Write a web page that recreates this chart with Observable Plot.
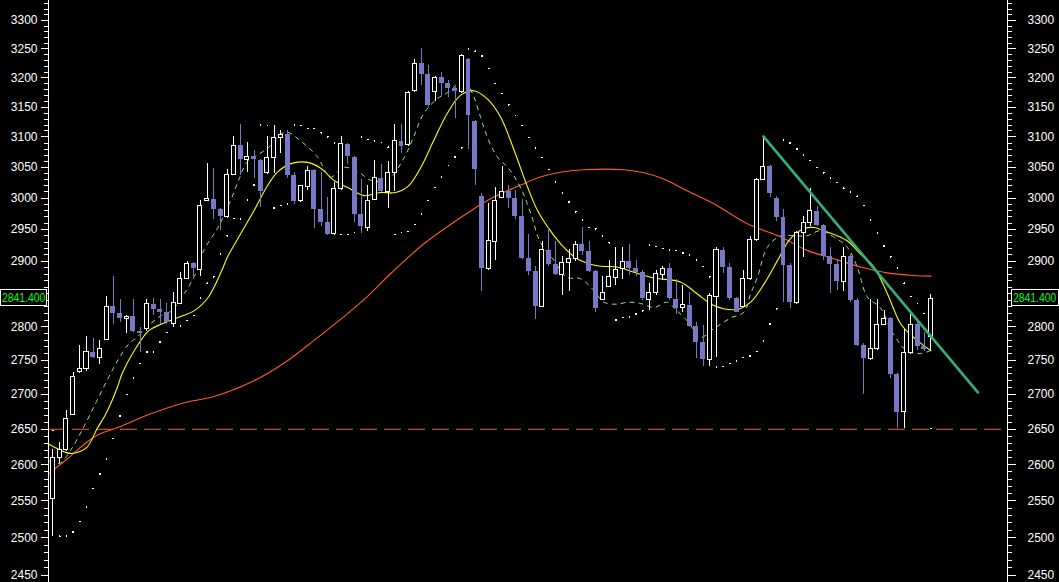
<!DOCTYPE html>
<html><head><meta charset="utf-8">
<script src="https://cdn.jsdelivr.net/npm/d3@7"></script>
<script src="https://cdn.jsdelivr.net/npm/@observablehq/plot@0.6"></script>
<style>
html,body{margin:0;padding:0;background:#000;}
#chart{width:1059px;height:582px;overflow:hidden;background:#000;}
svg{display:block;}
</style></head><body><div id="chart"></div>
<script>
// ---- candles (index order, oldest first) ----
const opens = [2552,2610,2621,2671,2732,2737,2761,2754,2780,2830,2820,2812,2816,2792,2797,2834,2826,2821,2804,2835,
2873,2896,2887,2996,2998,2982,2969,3037,3086,3062,3067,3061,3040,3066,3099,3104,3037,2995,3018,3045,
2982,2961,2942,3015,3088,3066,2974,2952,2997,3032,3010,3041,3093,3087,3177,3224,3205,3176,3200,3190,
3181,3175,3231,3126,3002,2888,2930,3000,3010,3000,2970,2904,2884,2830,2917,2895,2879,2898,2903,2926,
2916,2884,2840,2860,2874,2888,2899,2888,2883,2841,2851,2878,2889,2841,2828,2832,2800,2777,2751,2845,
2917,2890,2842,2830,2872,2934,3030,3051,3000,2969,2894,2836,2945,2960,2979,2957,2908,2895,2868,2907,
2840,2772,2752,2767,2803,2812,2729,2674,2760,2803,2770,2785];
const highs = [2622,2631,2677,2732,2772,2786,2782,2780,2846,2876,2841,2817,2841,2799,2841,2843,2841,2835,2852,2883,
2900,2898,2996,3057,3048,2984,3046,3100,3121,3091,3077,3063,3101,3120,3111,3110,3042,3020,3052,3047,
3041,3001,3025,3101,3090,3068,3030,3020,3061,3054,3060,3121,3121,3177,3231,3251,3221,3202,3209,3195,
3183,3240,3233,3128,3008,2991,3017,3052,3020,3012,2998,2942,2892,2931,2953,2931,2907,2918,2931,2953,
2931,2886,2876,2901,2921,2921,2926,2901,2885,2865,2886,2892,2897,2872,2862,2852,2806,2802,2851,2922,
2922,2896,2844,2886,2939,3032,3098,3053,3002,2981,2896,2947,2970,3015,2987,2958,2922,2902,2922,2910,
2842,2775,2841,2841,2824,2814,2731,2796,2818,2806,2791,2849];
const lows = [2502,2602,2619,2670,2731,2733,2752,2743,2779,2804,2807,2790,2791,2762,2792,2817,2804,2803,2801,2834,
2872,2876,2876,2995,2966,2948,2967,3036,3036,3042,3032,2985,3038,3040,3073,3032,2990,2993,3012,2952,
2954,2941,2940,3013,3055,2961,2943,2946,2996,3009,2983,3011,3073,3085,3175,3187,3150,3159,3170,3167,
3131,3173,3080,3020,2854,2886,2901,2999,2983,2966,2902,2878,2811,2829,2892,2878,2847,2854,2900,2909,
2882,2822,2839,2859,2862,2872,2878,2877,2840,2824,2847,2870,2840,2818,2822,2798,2752,2741,2741,2754,
2881,2840,2821,2829,2871,2931,3029,3001,2963,2836,2828,2834,2906,2955,2955,2901,2851,2855,2853,2837,
2770,2700,2750,2765,2801,2723,2651,2651,2758,2764,2763,2763];
const closes = [2610,2620,2664,2725,2737,2762,2754,2767,2830,2820,2813,2815,2792,2790,2834,2826,2822,2806,2836,2873,
2896,2888,2987,2998,2982,2970,3038,3085,3063,3067,3063,3011,3066,3099,3104,3037,2995,3019,3044,2982,
2961,2942,3015,3088,3067,2974,2954,2995,3032,3011,3041,3093,3085,3174,3224,3205,3152,3200,3190,3182,
3177,3237,3136,3046,2889,2931,2996,3010,3000,2971,2904,2884,2830,2917,2895,2880,2898,2904,2926,2915,
2884,2827,2851,2875,2887,2899,2889,2883,2842,2851,2880,2888,2842,2828,2832,2800,2777,2751,2846,2917,
2890,2842,2822,2873,2934,3030,3051,3008,2969,2894,2837,2945,2960,2979,2957,2908,2895,2869,2907,2840,
2772,2753,2767,2803,2812,2729,2674,2760,2803,2770,2766,2841.4];

// ---- parabolic SAR dots, one per candle ----
const sar = [2648,2502,2502,2508,2522,2542,2567,2587,2608,2637,
2669,2700,2724,2745,2762,2762,2777,2791,2801,2801,
2809,2817,2843,2866,2876,2911,2940,2967,2966,2997,
3021,3120,3119,2984,2988,2991,3120,3119,3114,3114,
3107,3100,3090,2942,2942,2945,3100,3096,3093,3091,
3083,2942,2945,2947,2958,2974,2996,3017,3034,3053,
3067,3082,3250,3246,3238,3216,3190,3173,3154,3136,
3119,3099,3082,3066,3046,3026,3008,2994,2978,2965,
2953,2951,2940,2929,2810,2814,2815,2819,2824,2926,
2923,2920,2918,2917,2913,2910,2902,2892,2876,2740,
2741,2745,2749,2754,2756,2763,2779,2804,2827,3095,
3090,3080,3070,3061,3050,3041,3033,3025,3016,3010,
3003,2988,2965,2944,2924,2907,2890,2866,2846,2835,
2820,2651];

// ---- moving averages (candle index, value) ----
const yellowIdx = [-0.7,2,3,5,6.6,8,9.6,10.3,12.3,14.3,16.2,18.2,21.2,23.2,25.2,26,28,30,32,33.5,
35.5,38,40,42,44,46.4,48.9,51.1,52.9,54.8,56.8,58.8,60.8,62.8,64.8,66.8,68.8,70.8,72.3,74.2,
76.2,78.2,81.2,84.2,86.7,89.7,93.6,96.1,98.6,102.1,104.1,106.1,108.1,110,112,113.5,115.5,118.5,120.5,122.5,
124.5,126.5,128.4,131];
const yellowVal = [2629,2617,2616,2624,2651,2674,2710,2730,2767,2794,2804,2812,2825,2845,2886,2906,2943,2980,3020,3042,
3056,3058,3048,3028,3017,3004,3009,3009,3018,3048,3094,3139,3170,3178,3164,3133,3078,3018,2980,2948,
2922,2904,2893,2891,2883,2874,2868,2850,2832,2826,2837,2865,2901,2935,2951,2953,2946,2932,2911,2891,
2850,2804,2784,2764];

const redIdx = [-0.7,2.1,5.1,7.1,9.3,14.3,19.2,24,30,34.5,38.9,46.4,50.4,55.3,60.3,65.3,69.8,72.7,75.7,79.2,
85.2,88.2,91.1,94.6,98.6,103.6,108.6,112.5,116.5,120.5,124.5,128.4,131];
const redVal = [2587,2608,2632,2644,2651,2671,2687,2697,2720,2746,2779,2841,2881,2927,2965,2999,3021,3034,3042,3046,
3046,3041,3031,3012,2991,2959,2938,2917,2904,2891,2882,2878,2877];

const greenIdx = [-0.5,1,2.6,4.3,6.3,8.3,9.8,11.3,12.5,14.3,16.2,17.7,19.2,20.2,21.5,22.5,24.5,26.5,27.7,29,
30.5,32.2,34,35,36.9,39.4,41.4,43.4,45.6,47.4,49.9,52.3,53.8,55.3,57.3,59.3,61.3,62.6,63.8,64.8,
66.3,68,69.8,71.3,72.7,74.7,76.7,78.7,80.7,82.2,84.2,85.7,87.7,89.7,91.6,93.1,94.8,96.6,98.6,101.1,
103.1,104.1,105.1,106.6,108.6,110.5,112.5,114.5,116.5,118.5,120,121.5,123.4,125.4,127.4,129.4,130.9];
const greenVal = [2605,2602,2620,2648,2686,2725,2752,2774,2784,2802,2817,2824,2845,2860,2886,2917,2951,2996,3029,3059,
3070,3083,3105,3108,3094,3068,3034,3050,3042,3029,3029,3064,3100,3139,3164,3178,3198,3173,3133,3100,
3067,3048,3016,2975,2930,2902,2875,2873,2855,2837,2834,2837,2835,2829,2837,2824,2807,2784,2797,2813,
2822,2850,2875,2922,2940,2940,2940,2948,2938,2922,2891,2845,2829,2789,2764,2760,2764];

// ---- trend line and support ----
const trendIdx = [106, 138];
const trendVal = [3101, 2703];
const supportLevel = 2650;

// ---- axis ticks (2850 is hidden behind the last-price box) ----
const tickLabels = [2450,2500,2550,2600,2650,2700,2750,2800,2900,2950,3000,3050,3100,3150,3200,3250,3300];
const minorTicks = d3.range(2450, 3331, 10);
const lastClose = closes[closes.length - 1];

// ---- build tables ----
const candles = opens.map((o, i) => ({i, open: o, high: highs[i], low: lows[i], close: closes[i], up: closes[i] >= o}));
const upC = candles.filter(d => d.up), downC = candles.filter(d => !d.up);
const sarData = sar.map((v, i) => ({i, v}));
const mk = (ix, vs) => ix.map((i, k) => ({i, v: vs[k]}));
const yellow = mk(yellowIdx, yellowVal), red = mk(redIdx, redVal), green = mk(greenIdx, greenVal), trend = mk(trendIdx, trendVal);

const BLUE = "#7878c4";
const xDomain = [-0.67, 142.42];

const chart = Plot.plot({
  width: 1059, height: 582,
  marginLeft: 48, marginRight: 52, marginTop: 0, marginBottom: 0,
  style: {background: "#000", color: "#fff", fontFamily: "'Liberation Sans', Arial, sans-serif", fontSize: "12px"},
  x: {type: "linear", domain: xDomain, axis: null},
  y: {type: "log", domain: [2440.8, 3335.6], label: null},
  marks: [
    Plot.ruleY([supportLevel], {stroke: "#e8683c", strokeDasharray: "17,7", strokeWidth: 1}),
    Plot.line(red, {x: "i", y: "v", stroke: "#ff5a26", strokeWidth: 1.1, curve: "catmull-rom"}),
    Plot.line(yellow, {x: "i", y: "v", stroke: "#ffff00", strokeWidth: 1.1, curve: "catmull-rom"}),
    Plot.line(green, {x: "i", y: "v", stroke: "#8ef08e", strokeWidth: 1, strokeDasharray: "4,5", curve: "catmull-rom"}),
    Plot.dot(sarData, {x: "i", y: "v", r: 0.9, fill: "#fff", stroke: null, shapeRendering: "crispEdges"}),
    Plot.ruleX(downC, {x: "i", y1: "low", y2: "high", stroke: BLUE, shapeRendering: "crispEdges"}),
    Plot.ruleX(upC, {x: "i", y1: "low", y2: "high", stroke: "#fff", shapeRendering: "crispEdges"}),
    Plot.rect(downC, {x1: d => d.i - 0.37, x2: d => d.i + 0.37, y1: "open", y2: "close", fill: BLUE, shapeRendering: "crispEdges"}),
    Plot.rect(upC, {x1: d => d.i - 0.3, x2: d => d.i + 0.3, y1: "open", y2: "close", fill: "#000", stroke: "#fff", strokeWidth: 1, shapeRendering: "crispEdges"}),
    Plot.line(trend, {x: "i", y: "v", stroke: "#33b07a", strokeWidth: 2.6}),
    Plot.ruleX(xDomain, {stroke: "#fff", shapeRendering: "crispEdges"}),
    Plot.axisY({anchor: "left", ticks: minorTicks, tickSize: 4, tickFormat: () => "", label: null, shapeRendering: "crispEdges"}),
    Plot.axisY({anchor: "right", ticks: minorTicks, tickSize: 4, tickFormat: () => "", label: null, shapeRendering: "crispEdges"}),
    Plot.axisY({anchor: "left", ticks: tickLabels, tickSize: 7, tickPadding: 4, tickFormat: d => String(d), label: null, fontSize: 12, shapeRendering: "crispEdges"}),
    Plot.axisY({anchor: "right", ticks: tickLabels, tickSize: 8, tickPadding: 12, tickFormat: d => String(d), label: null, fontSize: 12, shapeRendering: "crispEdges"})
  ]
});
document.getElementById("chart").appendChild(chart);

// ---- last price boxes on both axes ----
const py = chart.scale("y").apply(lastClose) - 2;
const g = d3.select(chart).append("g").attr("shape-rendering", "crispEdges");
const boxTop = Math.round(py - 8) + 0.5;
const priceText = lastClose.toFixed(3);
g.append("rect").attr("x", 0.5).attr("y", boxTop).attr("width", 46).attr("height", 16)
  .attr("fill", "#000").attr("stroke", "#fff");
g.append("rect").attr("x", 1011.5).attr("y", boxTop).attr("width", 47).attr("height", 16)
  .attr("fill", "#000").attr("stroke", "#fff");
const tf = "'Liberation Sans', Arial, sans-serif";
for (const x0 of [2, 1013]) {
  g.append("text").attr("transform", `translate(${x0},${py}) scale(0.8,1)`)
    .attr("dy", "0.36em").attr("text-anchor", "start")
    .attr("fill", "#00ff00").attr("font-family", tf).attr("font-size", 13).text(priceText);
}
</script>
</body></html>
